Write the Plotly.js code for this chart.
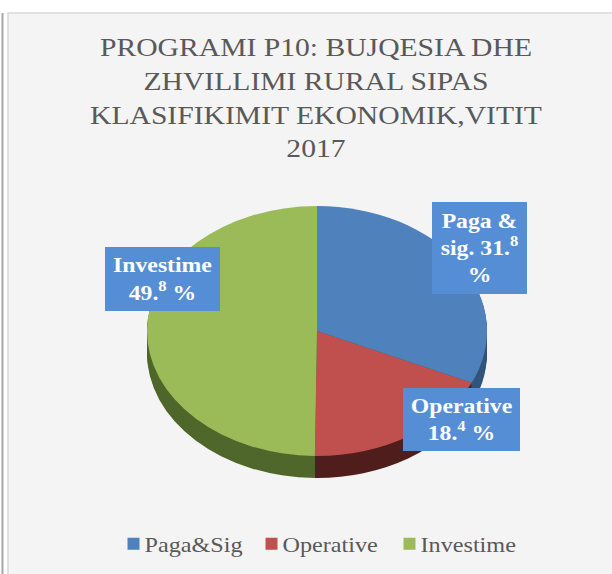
<!DOCTYPE html>
<html>
<head>
<meta charset="utf-8">
<script src="https://cdn.plot.ly/plotly-3.0.1.min.js"></script>
<style>
  html, body { margin: 0; padding: 0; background: #ffffff; }
  #chart { width: 612px; height: 574px; }
</style>
</head>
<body>
<div id="chart"></div>
<script>
// ---- data ----
const labels = ['Paga&Sig', 'Operative', 'Investime'];
const values = [31.8, 18.4, 49.8];
const calloutText = [
  'Paga &amp;<br>sig. 31.<sup>8</sup><br>%',
  'Operative<br>18.<sup>4</sup> %',
  'Investime<br>49.<sup>8</sup> %'
];
const titleText = 'PROGRAMI P10: BUJQESIA DHE<br>ZHVILLIMI RURAL SIPAS<br>KLASIFIKIMIT EKONOMIK,VITIT<br>2017';

// ---- styles ----
const serif = 'Liberation Serif, Times New Roman, serif';
const topColors = ['#4F81BD', '#C0504D', '#9BBB59'];
const sideColors = ['#34547c', '#4f1e1d', '#4f672b'];
const W = 612, H = 574;
const squash = 0.735;          // ellipse ratio of the tilted pie
const depth = 22;              // thickness of the pie side in px
const layerStep = 1.5;
const textStretch = { title: 1.14, callout: 1.13, legend: 1.10 };

const px = x => x / W;
const py = y => 1 - y / H;

const pieDomain = { x: [px(147), px(487)], y: [py(501), py(161)] };

const traces = [];
const offsets = [];
for (let d = depth; d > 0; d -= layerStep) {
  traces.push({
    type: 'pie', labels: labels, values: values, sort: false,
    direction: 'clockwise', rotation: 0, textinfo: 'none',
    hoverinfo: 'skip', showlegend: false,
    marker: { colors: sideColors, line: { width: 0 } },
    domain: pieDomain
  });
  offsets.push(d);
}
traces.push({
  type: 'pie', labels: labels, values: values, sort: false,
  direction: 'clockwise', rotation: 0, textinfo: 'none',
  hoverinfo: 'label+percent',
  marker: { colors: topColors, line: { width: 0 } },
  domain: pieDomain
});
offsets.push(0);

const calloutPos = [
  { x: 479.5, y: 248, w: 95, h: 92 },
  { x: 461.5, y: 419.5, w: 117, h: 63 },
  { x: 162.5, y: 279, w: 115, h: 64 }
];

const annotations = calloutText.map((t, i) => ({
  text: t, xref: 'paper', yref: 'paper',
  x: px(calloutPos[i].x), y: py(calloutPos[i].y),
  xanchor: 'center', yanchor: 'middle', showarrow: false,
  width: calloutPos[i].w, height: calloutPos[i].h,
  bgcolor: '#558ED5', borderpad: 0, borderwidth: 0,
  align: 'center', valign: 'middle',
  font: { family: serif, size: 21, color: '#ffffff', weight: 'bold' }
}));

const layout = {
  width: W, height: H,
  margin: { l: 0, r: 0, t: 0, b: 0 },
  paper_bgcolor: '#ffffff',
  plot_bgcolor: 'rgba(0,0,0,0)',
  title: {
    text: titleText,
    x: px(316), xanchor: 'center',
    y: py(56), yref: 'container', yanchor: 'top',
    font: { family: serif, size: 26, color: '#595959' }
  },
  showlegend: true,
  legend: {
    orientation: 'h', x: px(113.5), xanchor: 'left',
    y: py(544), yanchor: 'middle',
    entrywidth: 93, entrywidthmode: 'pixels',
    font: { family: serif, size: 22, color: '#595959' },
    bgcolor: 'rgba(0,0,0,0)', traceorder: 'normal'
  },
  shapes: [
    { type: 'rect', xref: 'paper', yref: 'paper', layer: 'below',
      x0: px(8), x1: px(620), y0: py(580), y1: py(13),
      fillcolor: '#f4f4f4', line: { color: '#d9d9d9', width: 1.5 } },
    { type: 'line', xref: 'paper', yref: 'paper', layer: 'below',
      x0: px(2.5), x1: px(2.5), y0: py(580), y1: py(13),
      line: { color: '#a6a6a6', width: 2 } }
  ],
  annotations: annotations
};

function stretchX(el, s, anchor, shift) {
  const b = el.getBBox();
  const cx = anchor === 'left' ? b.x : b.x + b.width / 2;
  const prev = el.getAttribute('transform') || '';
  el.setAttribute('transform', prev + ' translate(' + (cx + (shift || 0)) + ',0) scale(' + s + ',1) translate(' + (-cx) + ',0)');
}

const gd = document.getElementById('chart');
Plotly.newPlot(gd, traces, layout, { displayModeBar: false, staticPlot: true }).then(() => {
  const groups = gd.querySelectorAll('.pielayer .trace');
  if (groups.length) {
    const topBox = groups[groups.length - 1].getBBox();
    const cy = topBox.y + topBox.height / 2;
    groups.forEach((g, i) => {
      const off = offsets[i] || 0;
      g.setAttribute('transform',
        'translate(0,' + (cy * (1 - squash) + off) + ') scale(1,' + squash + ')');
    });
  }
  gd.querySelectorAll('.gtitle').forEach(el => stretchX(el, textStretch.title, 'center'));
  gd.querySelectorAll('.annotation-text').forEach(el => stretchX(el, textStretch.callout, 'center'));
  gd.querySelectorAll('.legendtext').forEach(el => stretchX(el, textStretch.legend, 'left', -9));
});
</script>
</body>
</html>
